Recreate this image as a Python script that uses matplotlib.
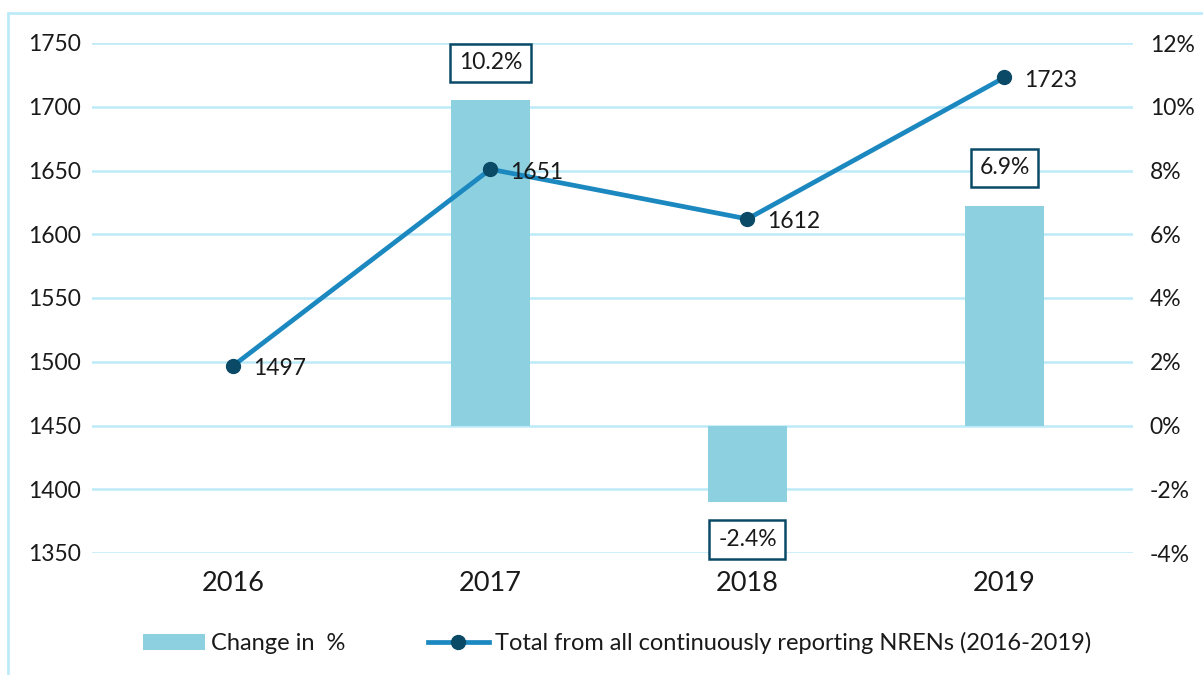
import matplotlib
matplotlib.use("Agg")
import matplotlib.pyplot as plt
from matplotlib.patches import Rectangle
from matplotlib.lines import Line2D
from matplotlib.patches import Patch
from matplotlib.ticker import FuncFormatter

plt.rcParams['font.family'] = ['Lato', 'DejaVu Sans']

years = ["2016", "2017", "2018", "2019"]
totals = [1497, 1651, 1612, 1723]
change_pct = [None, 10.2, -2.4, 6.9]
left_ticks = [1350, 1400, 1450, 1500, 1550, 1600, 1650, 1700, 1750]
right_ticks = [-4, -2, 0, 2, 4, 6, 8, 10, 12]

bar_color = "#8DD1E0"
line_color = "#1B88C0"
marker_color = "#0B4A66"
grid_color = "#BDEAF9"
text_color = "#1a1a1a"

fig = plt.figure(figsize=(12.03, 6.75), dpi=100)
ax = fig.add_axes([92/1203, 1-553/675, (1133-92)/1203, (553-43)/675])
ax2 = ax.twinx()

x = list(range(len(years)))

# bars on right axis
bx = [i for i, v in zip(x, change_pct) if v is not None]
bv = [v for v in change_pct if v is not None]
ax2.bar(bx, bv, width=0.31, color=bar_color, zorder=2)
ax2.set_ylim(-4, 12)
ax2.set_yticks(right_ticks)
ax2.yaxis.set_major_formatter(FuncFormatter(lambda v, p: f"{v:.0f}%"))

for xi, v in zip(bx, bv):
    if v >= 0:
        y = v + 0.85
        va = "bottom"
    else:
        y = v - 0.85
        va = "top"
    ax2.text(xi, y, f"{v:.1f}%", ha="center", va=va, fontsize=16.5, color=text_color,
             bbox=dict(boxstyle="square,pad=0.38", fc="white", ec=marker_color, lw=1.8),
             zorder=5)

# line on left axis
ax.set_zorder(ax2.get_zorder() + 1)
ax.patch.set_visible(False)
ax.plot(x, totals, color=line_color, lw=3.4, marker="o", markersize=10,
        markerfacecolor=marker_color, markeredgecolor=marker_color, zorder=4)
for xi, v in zip(x, totals):
    ax.annotate(f"{v}", (xi, v), xytext=(14, -2), textcoords="offset points",
                ha="left", va="center", fontsize=16.5, color=text_color, zorder=6)

ax.set_ylim(1350, 1750)
ax.set_yticks(left_ticks)
ax.set_xlim(-0.55, 3.5)
ax.set_xticks(x)
ax.set_xticklabels(years)

for a in (ax, ax2):
    for s in a.spines.values():
        s.set_visible(False)
    a.tick_params(length=0, colors=text_color)

ax.tick_params(axis="y", labelsize=16.5, pad=8)
ax.tick_params(axis="x", labelsize=19.5, pad=13)
ax2.tick_params(axis="y", labelsize=16.5, pad=12)

for t in right_ticks:
    ax2.axhline(t, color=grid_color, lw=1.8, zorder=0)

handles = [Patch(facecolor=bar_color, edgecolor="none"),
           Line2D([0], [0], color=line_color, lw=3.4, marker="o", markersize=10,
                  markerfacecolor=marker_color, markeredgecolor=marker_color)]
labels = ["Change in  %", "Total from all continuously reporting NRENs (2016-2019)"]
fig.legend(handles, labels, loc="center", bbox_to_anchor=(0.513, 1-643/675), ncol=2,
           frameon=False, fontsize=17, handlelength=2.6, columnspacing=3.5,
           handletextpad=0.25, labelcolor=text_color)

fig.add_artist(Rectangle((8/1203, -0.1), 1.2, 1-13/675+0.1, transform=fig.transFigure,
                         fill=False, edgecolor=grid_color, lw=2))

fig.savefig("out.png", dpi=100, facecolor="white")
